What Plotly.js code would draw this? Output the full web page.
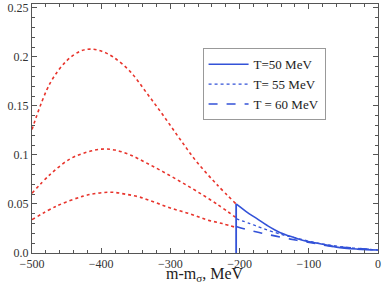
<!DOCTYPE html>
<html><head><meta charset="utf-8">
<script src="https://cdn.plot.ly/plotly-3.0.1.min.js"></script>
<style>html,body{margin:0;padding:0;background:#fff;}#plot{width:382px;height:286px;}</style>
</head><body><div id="plot"></div>
<script>
// Red dotted curves (below threshold)
const redX1 = [-500, -474, -450, -430, -416, -400, -383, -358, -334, -310, -286, -262, -233, -205];
const redY1 = [0.126, 0.173, 0.196, 0.206, 0.208, 0.206, 0.200, 0.185, 0.163, 0.140, 0.116, 0.093, 0.070, 0.050];
const redX2 = [-500, -474, -445, -420, -399, -380, -358, -335, -311, -286, -262, -233, -205];
const redY2 = [0.061, 0.080, 0.096, 0.103, 0.106, 0.105, 0.100, 0.092, 0.083, 0.073, 0.063, 0.050, 0.036];
const redX3 = [-500, -464, -426, -405, -385, -365, -344, -320, -296, -272, -248, -225, -205];
const redY3 = [0.034, 0.048, 0.058, 0.061, 0.062, 0.060, 0.057, 0.051, 0.045, 0.040, 0.034, 0.030, 0.026];
// Blue curves (above threshold)
const thresholdX = [-205, -205];
const thresholdY = [0.0, 0.050];
const blueX50 = [-205, -190, -175, -160, -142, -122, -103, -80, -60, -30, 0];
const blueY50 = [0.050, 0.042, 0.035, 0.028, 0.021, 0.016, 0.012, 0.009, 0.006, 0.004, 0.003];
const blueX55 = [-205, -185, -166, -140, -117, -93, -69, -35, 0];
const blueY55 = [0.035, 0.030, 0.025, 0.019, 0.015, 0.011, 0.008, 0.005, 0.003];
const blueX60 = [-205, -185, -166, -140, -117, -93, -69, -35, 0];
const blueY60 = [0.027, 0.023, 0.020, 0.016, 0.013, 0.010, 0.007, 0.005, 0.003];
const legendNames = ['T=50 MeV', 'T= 55 MeV', 'T = 60 MeV'];
const xTitle = 'm-m<sub>\u03c3</sub>, MeV';
const xTicks = [-500, -400, -300, -200, -100, 0];
const xTickText = ['\u2212500', '\u2212400', '\u2212300', '\u2212200', '\u2212100', '0'];
const yTicks = [0, 0.05, 0.1, 0.15, 0.2, 0.25];
const yTickText = ['0.0', '0.05', '0.1', '0.15', '0.2', '0.25'];

const red = '#e8342c', blue = '#3352d8';
const traces = [
  {x: redX1, y: redY1, mode: 'lines', line: {color: red, dash: 'dot', width: 1.6, shape: 'spline'}, showlegend: false},
  {x: redX2, y: redY2, mode: 'lines', line: {color: red, dash: 'dot', width: 1.6, shape: 'spline'}, showlegend: false},
  {x: redX3, y: redY3, mode: 'lines', line: {color: red, dash: 'dot', width: 1.6, shape: 'spline'}, showlegend: false},
  {x: thresholdX, y: thresholdY, mode: 'lines', line: {color: blue, width: 1.8}, showlegend: false},
  {x: blueX50, y: blueY50, mode: 'lines', name: legendNames[0], line: {color: blue, width: 1.6, shape: 'spline'}},
  {x: blueX55, y: blueY55, mode: 'lines', name: legendNames[1], line: {color: blue, dash: 'dot', width: 1.3, shape: 'spline'}},
  {x: blueX60, y: blueY60, mode: 'lines', name: legendNames[2], line: {color: blue, dash: 'dash', width: 1.6, shape: 'spline'}}
];
const axisCommon = {
  showline: true, linecolor: '#555', linewidth: 1, mirror: 'allticks', ticks: 'inside', ticklen: 5, tickcolor: '#555',
  showgrid: false, zeroline: false, tickfont: {family: 'Liberation Serif', size: 12, color: '#333'}
};
const layout = {
  width: 382, height: 286,
  margin: {l: 32, r: 4, t: 4, b: 33},
  paper_bgcolor: '#fff', plot_bgcolor: '#fff',
  font: {family: 'Liberation Serif', color: '#333'},
  xaxis: Object.assign({}, axisCommon, {
    range: [-500, 0], tickvals: xTicks, ticktext: xTickText,
    minor: {dtick: 20, ticks: 'inside', ticklen: 3, tickcolor: '#555', showgrid: false}
  }),
  yaxis: Object.assign({}, axisCommon, {
    range: [0, 0.254], tickvals: yTicks, ticktext: yTickText,
    minor: {dtick: 0.01, ticks: 'inside', ticklen: 3, tickcolor: '#555', showgrid: false}
  }),
  annotations: [{text: xTitle, xref: 'paper', yref: 'paper', x: 0.5, y: -0.13, xanchor: 'center', yanchor: 'bottom',
    showarrow: false, borderpad: 0, font: {family: 'Liberation Serif', size: 16, color: '#222'}}],
  legend: {x: 0.493, y: 0.822, xanchor: 'left', yanchor: 'top', bordercolor: '#999', borderwidth: 1, bgcolor: '#fff',
    font: {family: 'Liberation Serif', size: 13, color: '#222'}, tracegroupgap: 0, itemwidth: 40}
};
Plotly.newPlot('plot', traces, layout, {staticPlot: true});
</script></body></html>
